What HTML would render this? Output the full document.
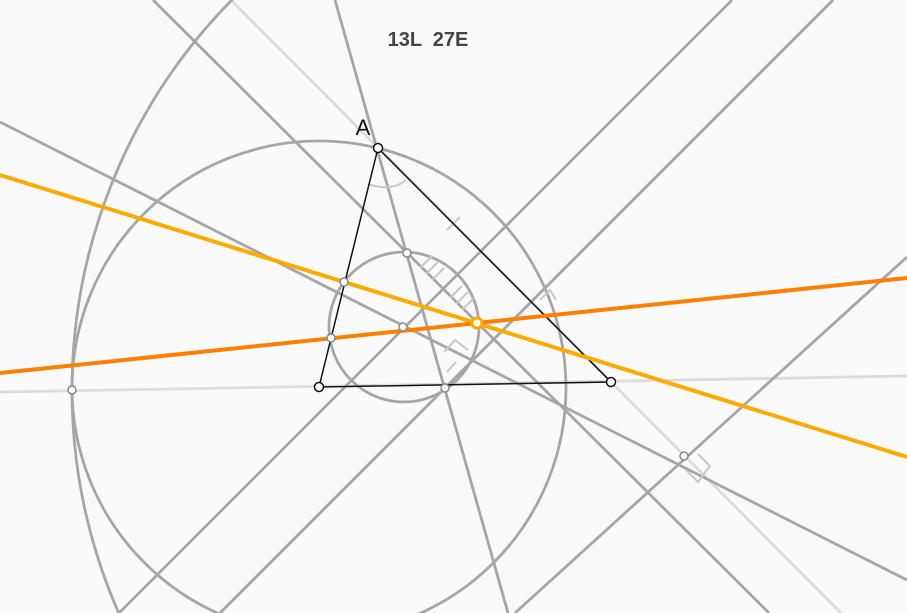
<!DOCTYPE html>
<html><head><meta charset="utf-8"><style>
html,body{margin:0;padding:0;background:#fafafa;width:907px;height:613px;overflow:hidden;}
svg{display:block;}
</style></head><body>
<svg id="c" width="907" height="613" viewBox="0 0 907 613" xmlns="http://www.w3.org/2000/svg">
<rect width="907" height="613" fill="#fafafa"/>
<g id="g"></g>
<text x="428" y="46" text-anchor="middle" font-family="Liberation Sans, sans-serif" font-weight="bold" font-size="20" fill="#444" xml:space="preserve" style="white-space:pre">13L  27E</text>
<text x="363" y="135" text-anchor="middle" font-family="Liberation Sans, sans-serif" font-size="22" fill="#111">A</text>
</svg>
<script>
const grayLines = [[335,0,508,613],[0,122,907,580],[153,0,769,613],[119,613,732,0],[220,613,833,0],[515,613,907,257]];
const lightLines = [[231,0,841,613],[0,392,907,376]];
const circles = [[319,388,247],[404,327,75],[628,390,556]];
const yellowLine = [0,175,907,457];
const orangeLine = [0,373,907,278];
const triangle = [[378,148],[319,387],[611,382]];
const points = [[407,253],[344,282],[331,338],[403,327],[445,388],[72,390],[684,456]];
const vertices = [[378,148],[319,387],[611,382]];
const ns='http://www.w3.org/2000/svg', g=document.getElementById('g');
function mk(t,a){const e=document.createElementNS(ns,t);for(const k in a)e.setAttribute(k,a[k]);g.appendChild(e);return e;}
lightLines.forEach(l=>{const e=mk('line',{x1:l[0],y1:l[1],x2:l[2],y2:l[3],stroke:'#dcdcdc','stroke-width':2.8});

});
circles.forEach(c=>{const e=mk('circle',{cx:c[0],cy:c[1],r:c[2],fill:'none',stroke:'#a6a6a6','stroke-width':2.8});

});
grayLines.forEach(l=>{const e=mk('line',{x1:l[0],y1:l[1],x2:l[2],y2:l[3],stroke:'#a6a6a6','stroke-width':2.8});

});
const marks=mk('path',{d:'M447,230 L460,217 M420,268 L432,256 M426,274 L438,262 M432,280 L444,268 M450,298 L462,286 M456,304 L468,292 M462,310 L474,298 M444,352 L455,340 L468,350 M447,372 L456,362 M686,470 L698,482 L710,466 L698,454 M540,300 L550,290 L556,300 M368,184 Q392,192 406,180',fill:'none',stroke:'#c8c8c8','stroke-width':2});


const t=mk('polygon',{points:triangle.map(p=>p.join(',')).join(' '),fill:'none',stroke:'#111','stroke-width':1.5});


const y=mk('line',{x1:yellowLine[0],y1:yellowLine[1],x2:yellowLine[2],y2:yellowLine[3],stroke:'#fbab00','stroke-width':4});


const o=mk('line',{x1:orangeLine[0],y1:orangeLine[1],x2:orangeLine[2],y2:orangeLine[3],stroke:'#ff7f00','stroke-width':4});


points.forEach(p=>{const e=mk('circle',{cx:p[0],cy:p[1],r:4,fill:'#fff',stroke:'#888','stroke-width':1.5});

});
vertices.forEach(p=>{const e=mk('circle',{cx:p[0],cy:p[1],r:4.5,fill:'#fff',stroke:'#111','stroke-width':1.5});

});
const op=mk('circle',{cx:477,cy:323,r:5,fill:'#fff',stroke:'#fbab00','stroke-width':3});


</script>
</body></html>
